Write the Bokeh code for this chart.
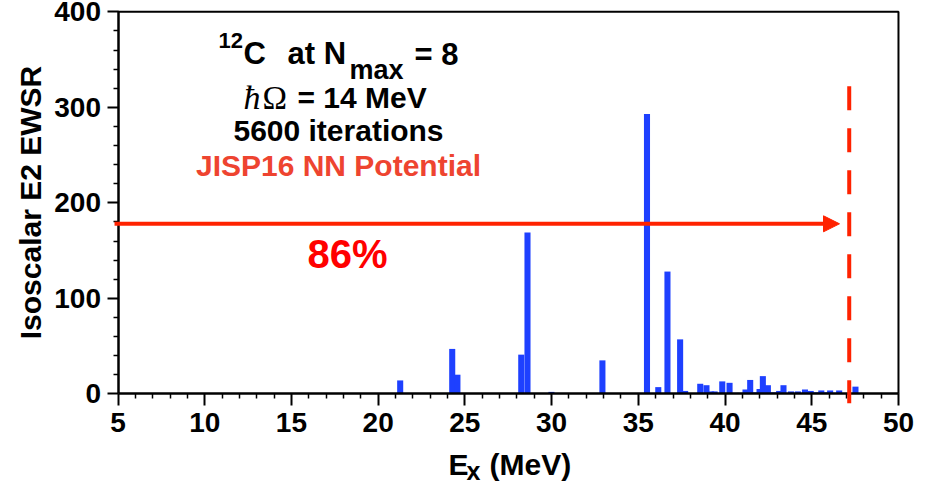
from bokeh.plotting import figure
from bokeh.models import Label, Arrow, NormalHead, FixedTicker, ColumnDataSource, LinearAxis, Range1d
from bokeh.embed import file_html
from bokeh.resources import INLINE

# ---- data ----
energies = [21.27, 24.27, 24.57, 28.25, 28.61, 29.99, 32.93, 35.50, 36.15, 36.68,
            37.41, 37.70, 38.57, 38.93, 39.20, 39.40, 39.84, 40.26, 40.60, 40.90,
            41.18, 41.45, 41.72, 41.99, 42.18, 42.47, 42.80, 43.12, 43.37, 43.80,
            44.20, 44.61, 44.94, 45.25, 45.55, 45.80, 46.06, 46.32, 46.58, 47.52]
strengths = [14, 47, 20, 41, 169, 2, 35, 293, 7, 128,
             57, 3, 10.5, 9, 2.5, 2.5, 13, 11.5, 1, 1,
             4.5, 14.5, 1.5, 5, 18.5, 9, 1.5, 3, 9, 2.5,
             2.5, 4.5, 3, 1.5, 3.5, 1.5, 3.5, 1, 3.5, 7.5]
x_ticks = [5, 10, 15, 20, 25, 30, 35, 40, 45, 50]
x_minor = [v for v in range(5, 51) if v % 5]
y_ticks = [0, 100, 200, 300, 400]
y_minor = [v for v in range(0, 401, 20) if v % 100]
x_lim = (5, 50)
y_lim = (0, 400)
arrow_level = 178
arrow_end = 46.6
cutoff_energy = 47.16
cutoff_top = 322
cutoff_bottom = -10
fraction_text = "86%"

W, H = 935, 488

# ---- page geometry helpers (page px -> data) ----
def X(px):
    return 5 + (px - 117.5) / 17.344

def Y(py):
    return (393.3 - py) / 0.955

SANS = "Liberation Sans"
BLUE = "#1e40ff"
RED = "#ff2200"

p = figure(width=W, height=H, x_range=Range1d(X(0), X(W)), y_range=Range1d(Y(H), Y(0)),
           x_axis_type=None, y_axis_type=None,
           output_backend="svg", toolbar_location=None,
           min_border_left=0, min_border_right=0, min_border_top=0, min_border_bottom=0)
p.outline_line_color = None
p.background_fill_color = "white"
p.border_fill_color = "white"
p.grid.visible = False

src = ColumnDataSource(dict(e=energies, s=strengths))
p.vbar(x="e", top="s", bottom=0, width=0.35, source=src, fill_color=BLUE, line_color=None)

# frame top and right edges
p.line(x=[x_lim[0], x_lim[1], x_lim[1]], y=[y_lim[1], y_lim[1], y_lim[0]],
       line_color="black", line_width=2)

xax = LinearAxis(fixed_location=y_lim[0], bounds=x_lim,
                 ticker=FixedTicker(ticks=x_ticks, minor_ticks=x_minor))
yax = LinearAxis(fixed_location=x_lim[0], bounds=y_lim,
                 ticker=FixedTicker(ticks=y_ticks, minor_ticks=y_minor))
for ax in (xax, yax):
    ax.axis_line_width = 2.5
    ax.axis_line_color = "black"
    ax.major_tick_line_width = 2
    ax.minor_tick_line_width = 1.5
    ax.major_tick_in = 0
    ax.minor_tick_in = 0
    ax.major_label_text_font = SANS
    ax.major_label_text_font_style = "bold"
    ax.major_label_text_font_size = "28px"
    ax.major_label_text_color = "black"

xax.major_tick_out = 12
xax.minor_tick_out = 5
xax.major_label_standoff = 7

yax.major_tick_out = 11
yax.minor_tick_out = 5
yax.major_label_standoff = 6
yax.axis_label = "Isoscalar E2 EWSR"
yax.axis_label_text_font = SANS
yax.axis_label_text_font_style = "bold"
yax.axis_label_text_font_size = "30px"
yax.axis_label_text_color = "black"
yax.axis_label_standoff = 5

p.add_layout(xax, "below")
p.add_layout(yax, "left")

def lab(text, px, py, size, color="black", font=SANS, style="bold", align="left"):
    # baseline correction measured from the rendered output
    py = py - 0.33 * size
    p.add_layout(Label(x=X(px), y=Y(py), text=text, text_font=font, text_font_style=style,
                       text_font_size=f"{size}px", text_color=color, text_align=align,
                       text_baseline="alphabetic"))

# title block
lab("12", 218, 47, 22)
lab("C", 243, 63, 31)
lab("at N", 287, 63, 31)
lab("max", 349, 78, 27)
lab("= 8", 414, 64, 31)
lab("\u0127", 243, 108, 34, font="Liberation Serif", style="italic")
lab("\u03a9", 262, 108, 33, font="Liberation Serif", style="normal")
lab("= 14 MeV", 297, 107, 30)
lab("5600 iterations", 338, 139.5, 30, align="center")
lab("JISP16 NN Potential", 338, 175, 30, color="#ee4430", align="center")
lab(fraction_text, 307, 267, 40, color="#ff0000")

# x-axis title
lab("E", 448, 474, 30)
lab("x", 466, 479, 25)
lab("(MeV)", 489, 474, 30)

# arrow and cutoff line
p.add_layout(Arrow(x_start=4.8, y_start=arrow_level, x_end=arrow_end, y_end=arrow_level,
                   line_color=RED, line_width=4,
                   end=NormalHead(size=16, fill_color=RED, line_color=RED, line_width=1)))
p.add_layout(Arrow(x_start=cutoff_energy, y_start=cutoff_top, x_end=cutoff_energy, y_end=cutoff_bottom,
                   line_color=RED, line_width=4, line_dash="24 18", end=None))

open("out.html", "w").write(file_html(p, INLINE))
